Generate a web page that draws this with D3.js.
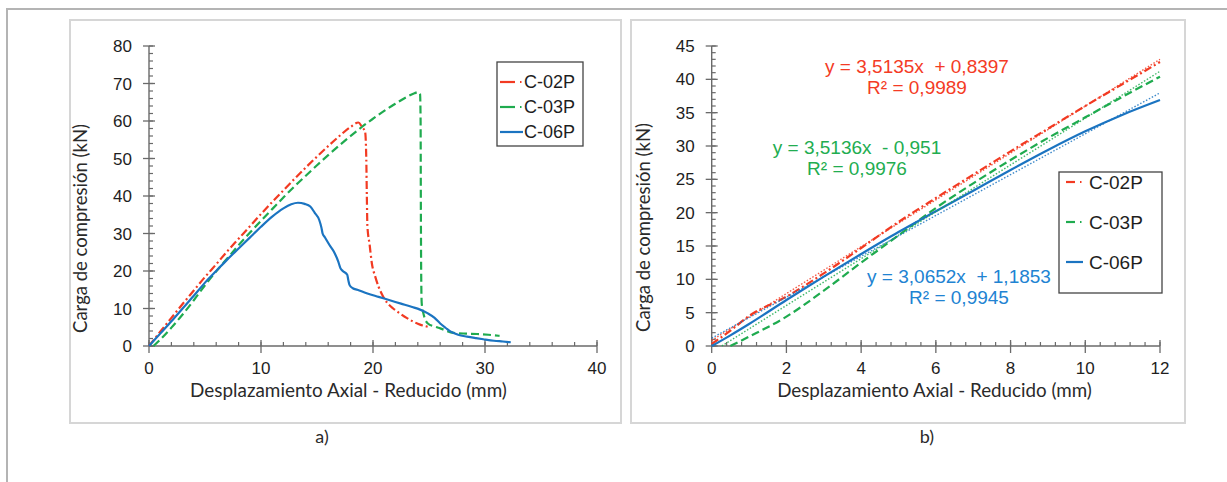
<!DOCTYPE html>
<html><head><meta charset="utf-8">
<script src="https://cdn.jsdelivr.net/npm/d3@7"></script>
<style>body{margin:0;background:#fff} svg{display:block}</style>
</head><body>
<svg id="c" width="1227" height="482"></svg>
<script>
// ---------- data ----------
const seriesNames = ["C-02P", "C-03P", "C-06P"];

const aXTicks = [0, 10, 20, 30, 40];
const aYTicks = [0, 10, 20, 30, 40, 50, 60, 70, 80];
const bXTicks = [0, 2, 4, 6, 8, 10, 12];
const bYTicks = [0, 5, 10, 15, 20, 25, 30, 35, 40, 45];

// panel a) full curves [displacement mm, load kN]
const aC02P = [[0,0],[1,3.8],[2,7.5],[3,11.2],[4,14.8],[5,18.4],[6,21.8],[7,25.3],[8,28.6],[9,31.9],[10,35.2],[11,38.4],[12,41.5],[13,44.6],[14,47.6],[15,50.5],[16,53.3],[17,56.0],[18,58.4],[18.7,59.6],[19.0,58.5],[19.3,57.0],[19.4,50],[19.45,40],[19.5,32],[19.7,27],[19.9,22],[20.2,18.5],[20.5,15.8],[20.9,13.2],[21.3,11.4],[21.8,10.0],[22.4,8.7],[23.0,7.5],[23.6,6.5],[24.2,5.7],[24.8,5.2],[25.1,5.0]];
const aC03P = [[0.4,0],[1,1.7],[2,4.9],[3,8.4],[4,12.2],[5,16.2],[6,19.9],[7,23.4],[8,26.9],[9,30.2],[10,33.4],[11,36.5],[12,39.6],[13,42.6],[14,45.4],[15,48.2],[16,50.9],[17,53.5],[18,56.0],[19,58.4],[20,60.6],[21,62.7],[22,64.6],[23,66.4],[23.7,67.4],[24.05,67.7],[24.2,67.2],[24.25,60],[24.27,40],[24.3,20],[24.35,11.4],[24.5,8.7],[24.9,6.0],[25.5,5.2],[26.0,4.7],[27.2,3.5],[28.3,3.3],[29.3,3.2],[30.3,3.0],[31.3,2.7]];
const aC06P = [[0,0],[1,3.3],[2,6.6],[3,10.0],[4,13.4],[5,16.9],[6,20.0],[7,23.1],[8,26.0],[9,28.9],[10,31.8],[11,34.5],[12,36.7],[12.7,37.8],[13.3,38.2],[13.9,37.9],[14.4,37.2],[14.8,35.5],[15.2,33.6],[15.4,31.5],[15.5,30.0],[15.7,29.0],[16.1,27.0],[16.5,25.2],[16.9,22.5],[17.1,20.7],[17.3,20.0],[17.7,19.0],[17.8,17.5],[17.9,16.3],[18.2,15.4],[18.6,15.0],[19.5,14.0],[20.5,13.1],[21.5,12.2],[22.5,11.3],[23.5,10.4],[24.2,9.7],[24.9,8.7],[25.5,7.5],[26.0,6.0],[26.5,4.8],[26.9,3.9],[27.6,3.0],[28.4,2.5],[29.2,2.1],[29.85,1.8],[30.8,1.4],[31.6,1.2],[32.3,1.0]];

// panel b) linear part
const bC02P = [[0,0.3],[0.5,2.3],[1,4.5],[2,7.4],[3,10.9],[4,14.7],[5,18.6],[6,22.2],[7,25.7],[8,29.2],[9,32.6],[10,36.0],[11,39.3],[12,42.6]];
const bC03P = [[0.5,0],[1,1.4],[2,4.4],[3,8.3],[4,12.5],[5,16.6],[6,20.7],[7,24.4],[8,27.9],[9,31.2],[10,34.3],[11,37.4],[12,40.4]];
const bC06P = [[0,0],[0.5,1.6],[1,3.3],[2,6.9],[3,10.4],[4,13.8],[5,17.1],[6,20.2],[7,23.3],[8,26.4],[9,29.4],[10,32.2],[11,34.7],[12,36.9]];

// linear trend lines (Excel)
const trendSlope = [3.5135, 3.5136, 3.0652];
const trendIntercept = [0.8397, -0.951, 1.1853];
const trendEq = ["y = 3,5135x  + 0,8397", "y = 3,5136x  - 0,951", "y = 3,0652x  + 1,1853"];
const trendR2 = ["R² = 0,9989", "R² = 0,9976", "R² = 0,9945"];

// ---------- styles ----------
const colors = ["#f23a22", "#1fab4f", "#1b74c1"];
const eqColors = ["#f43b25", "#22ad50", "#2183d2"];
const dashes = ["8,3,2,3", "8,4", null];
const axisColor = "#6a6a6a";
const tickFont = "'Liberation Sans', Arial, sans-serif";
const titleFont = "Lato, 'Open Sans', sans-serif";

const svg = d3.select("#c");

// outer frame
svg.append("path").attr("d", "M7,482 L7,9 L1227,9").attr("fill", "none")
  .attr("stroke", "#b4b4b4").attr("stroke-width", 2);
// panel frames
[[70, 20, 551, 403], [631, 20, 554, 403]].forEach(r => {
  svg.append("rect").attr("x", r[0]).attr("y", r[1]).attr("width", r[2]).attr("height", r[3])
    .attr("fill", "none").attr("stroke", "#d6d6d6").attr("stroke-width", 2);
});

function fitText(t, target) {
  const len = t.node().getComputedTextLength();
  const fs = parseFloat(t.attr("font-size"));
  t.attr("font-size", (fs * target / len).toFixed(2));
}

function drawAxes(x, y, xTicks, yTicks, xMinorStep, yMinorStep) {
  const g = svg.append("g");
  const [x0, x1] = x.range(), [y0, y1] = y.range();
  const xd = x.domain(), yd = y.domain();
  const xm = d3.range(xd[0], xd[1] + 1e-9, xMinorStep);
  const ym = d3.range(yd[0], yd[1] + 1e-9, yMinorStep);
  g.selectAll(".xm").data(xm).join("line")
    .attr("x1", d => x(d)).attr("x2", d => x(d)).attr("y1", y0).attr("y2", y0 - 4)
    .attr("stroke", axisColor).attr("stroke-width", 1.2);
  g.selectAll(".ym").data(ym).join("line")
    .attr("y1", d => y(d)).attr("y2", d => y(d)).attr("x1", x0).attr("x2", x0 + 4)
    .attr("stroke", axisColor).attr("stroke-width", 1.2);
  g.selectAll(".xM").data(xTicks).join("line")
    .attr("x1", d => x(d)).attr("x2", d => x(d)).attr("y1", y0 - 6).attr("y2", y0 + 7)
    .attr("stroke", axisColor).attr("stroke-width", 1.3);
  g.selectAll(".yM").data(yTicks).join("line")
    .attr("y1", d => y(d)).attr("y2", d => y(d)).attr("x1", x0 - 6).attr("x2", x0 + 6)
    .attr("stroke", axisColor).attr("stroke-width", 1.3);
  g.append("line").attr("x1", x0).attr("x2", x1).attr("y1", y0).attr("y2", y0)
    .attr("stroke", axisColor).attr("stroke-width", 1.4);
  g.append("line").attr("x1", x0).attr("x2", x0).attr("y1", y0).attr("y2", y1)
    .attr("stroke", axisColor).attr("stroke-width", 1.4);
  g.selectAll(".xl").data(xTicks).join("text")
    .attr("x", d => x(d)).attr("y", y0 + 28).attr("text-anchor", "middle")
    .attr("font-family", tickFont).attr("font-size", 17).attr("fill", "#1e1e1e").text(d => d);
  g.selectAll(".yl").data(yTicks).join("text")
    .attr("x", x0 - 17).attr("y", d => y(d) + 6).attr("text-anchor", "end")
    .attr("font-family", tickFont).attr("font-size", 17).attr("fill", "#1e1e1e").text(d => d);
}

function titles(xc, xb, xw, yx, yc, yw, lab, labX) {
  const tx = svg.append("text").attr("x", xc).attr("y", xb).attr("text-anchor", "middle")
    .attr("font-family", titleFont).attr("font-size", 17).attr("fill", "#2a2a2a")
    .text("Desplazamiento Axial - Reducido (mm)");
  fitText(tx, xw);
  const ty = svg.append("text").attr("transform", `translate(${yx},${yc}) rotate(-90)`)
    .attr("text-anchor", "middle").attr("font-family", titleFont).attr("font-size", 17)
    .attr("fill", "#2a2a2a").text("Carga de compresión (kN)");
  fitText(ty, yw);
  svg.append("text").attr("x", labX).attr("y", 443).attr("text-anchor", "middle")
    .attr("font-family", titleFont).attr("font-size", 18).attr("fill", "#2a2a2a").text(lab);
}

function drawSeries(x, y, data, i, width) {
  const line = d3.line().x(d => x(d[0])).y(d => y(d[1])).curve(d3.curveMonotoneX);
  const p = svg.append("path").datum(data).attr("d", line).attr("fill", "none")
    .attr("stroke", colors[i]).attr("stroke-width", width);
  if (dashes[i]) p.attr("stroke-dasharray", dashes[i]);
}

function legend(x0, y0, w, h, rowsY, sampleX, textX, fs) {
  svg.append("rect").attr("x", x0).attr("y", y0).attr("width", w).attr("height", h)
    .attr("fill", "#fff").attr("stroke", "#444").attr("stroke-width", 1.3);
  seriesNames.forEach((n, i) => {
    const yy = rowsY[i];
    if (i === 2) {
      svg.append("line").attr("x1", sampleX[0]).attr("x2", sampleX[2] + 3).attr("y1", yy).attr("y2", yy)
        .attr("stroke", colors[i]).attr("stroke-width", 2.2);
    } else {
      svg.append("line").attr("x1", sampleX[0]).attr("x2", sampleX[1]).attr("y1", yy).attr("y2", yy)
        .attr("stroke", colors[i]).attr("stroke-width", 2.2);
      svg.append("line").attr("x1", sampleX[2]).attr("x2", sampleX[2] + 1.5).attr("y1", yy).attr("y2", yy)
        .attr("stroke", colors[i]).attr("stroke-width", 2);
    }
    svg.append("text").attr("x", textX).attr("y", yy + fs * 0.36).attr("font-family", tickFont)
      .attr("font-size", fs).attr("fill", "#1e1e1e").text(n);
  });
}

// ---------- panel a ----------
const xa = d3.scaleLinear().domain([0, 40]).range([149, 597]);
const ya = d3.scaleLinear().domain([0, 80]).range([346, 46]);
drawAxes(xa, ya, aXTicks, aYTicks, 2, 2);
[aC03P, aC02P, aC06P].forEach((d, k) => drawSeries(xa, ya, d, [1, 0, 2][k], 2.2));
legend(497, 62, 86, 84, [82, 107, 132], [500, 515, 520], 524, 18);
titles(348.5, 397, 317, 87, 228.5, 209, "a)", 322);

// ---------- panel b ----------
const xb = d3.scaleLinear().domain([0, 12]).range([711.7, 1160]);
const yb = d3.scaleLinear().domain([0, 45]).range([346, 46]);
drawAxes(xb, yb, bXTicks, bYTicks, 0.4, 1);
[bC03P, bC02P, bC06P].forEach((d, k) => drawSeries(xb, yb, d, [1, 0, 2][k], 2.2));
trendSlope.forEach((m, i) => {
  const b = trendIntercept[i];
  const xs = Math.max(0, -b / m);
  const pts = [[xs, m * xs + b], [12, m * 12 + b]];
  svg.append("path").datum(pts)
    .attr("d", d3.line().x(d => xb(d[0])).y(d => yb(d[1])))
    .attr("fill", "none").attr("stroke", colors[i]).attr("stroke-width", 1.4)
    .attr("stroke-dasharray", "1.5,1.8").attr("opacity", 0.85);
});
legend(1059, 172, 103, 121, [182, 222, 262], [1066, 1075, 1080], 1089, 19);
const eqPos = [[917, 73], [857, 154], [959, 283]];
trendEq.forEach((s, i) => {
  svg.append("text").attr("x", eqPos[i][0]).attr("y", eqPos[i][1]).attr("text-anchor", "middle")
    .attr("font-family", tickFont).attr("font-size", 19).attr("fill", eqColors[i])
    .attr("xml:space", "preserve").style("white-space", "pre").text(s);
  svg.append("text").attr("x", eqPos[i][0]).attr("y", eqPos[i][1] + 21).attr("text-anchor", "middle")
    .attr("font-family", tickFont).attr("font-size", 19).attr("fill", eqColors[i]).text(trendR2[i]);
});
titles(934.5, 397, 315, 650, 227.5, 209, "b)", 927);
</script>
</body></html>
